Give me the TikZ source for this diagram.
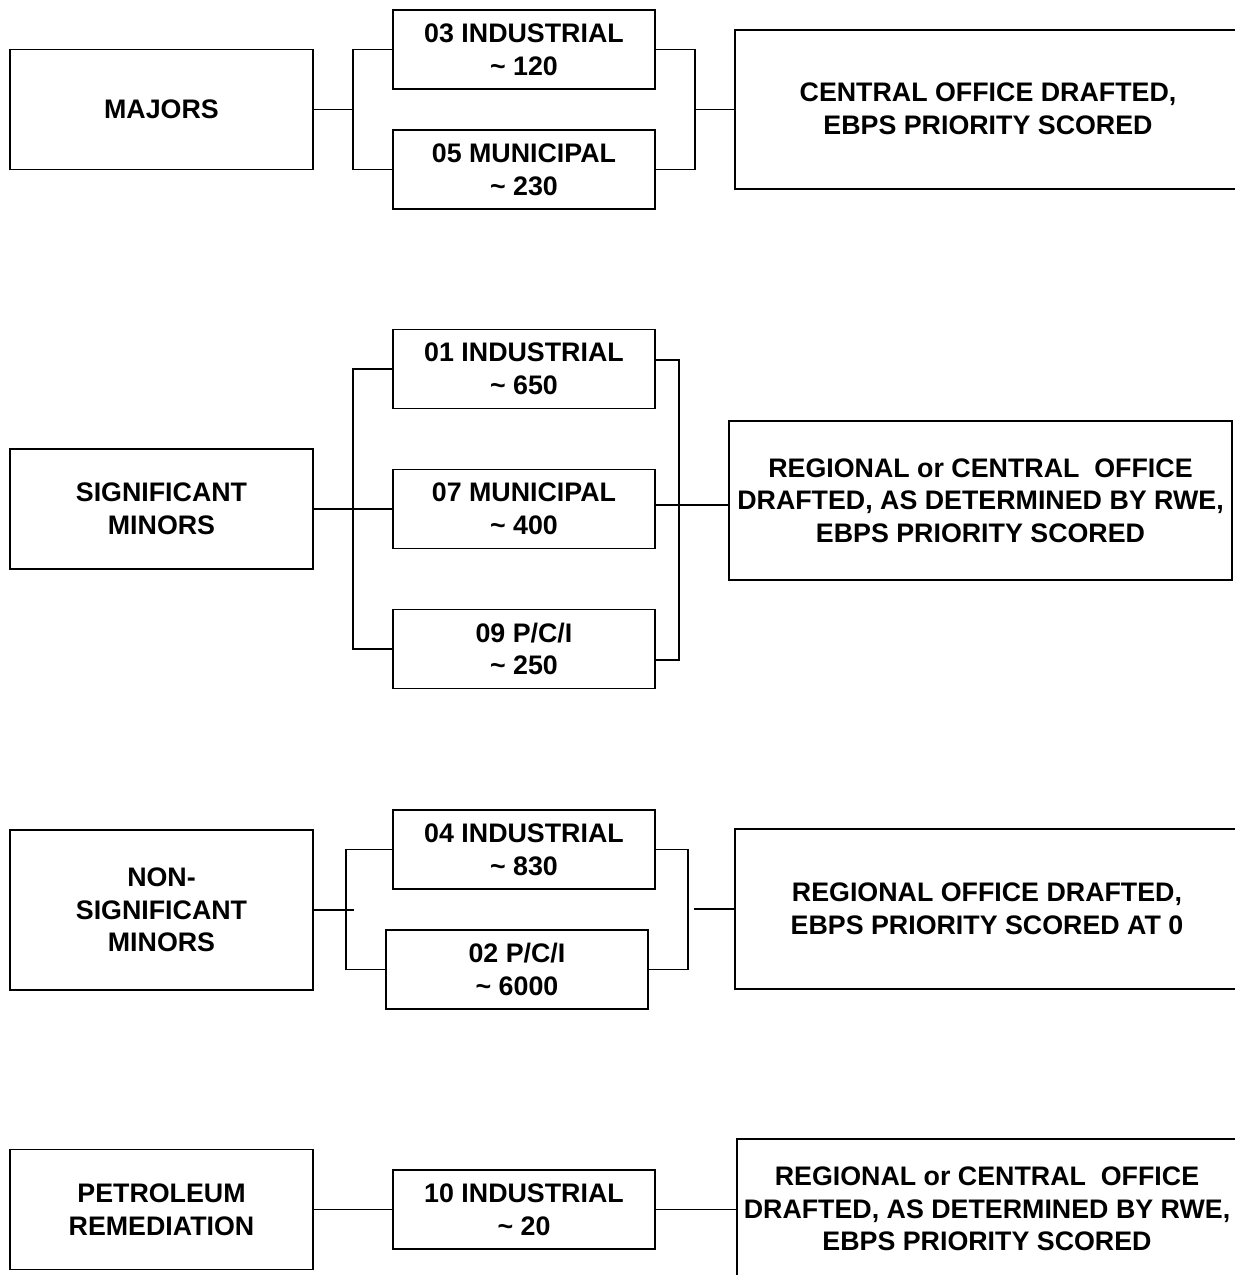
\documentclass[tikz,border=0pt]{standalone}
\usepackage{fontspec}
\setmainfont{Liberation Sans}
\begin{document}
\begin{tikzpicture}[x=0.5pt,y=-0.5pt,
  every node/.style={font=\fontsize{13.4}{16.3}\selectfont\bfseries, align=center, inner sep=0pt},
  line/.style={line width=0.7pt, line cap=rect},
  leftbox/.style={draw, line width=0.7pt, minimum width=151.5pt, minimum height=60pt},
  tallleft/.style={leftbox, minimum height=80pt},
  midbox/.style={draw, line width=0.7pt, minimum width=131pt, minimum height=39.5pt},
  bigbox/.style={draw, line width=0.7pt, minimum width=251.5pt, minimum height=79.5pt},
  txt/.style={draw=none}]
\useasboundingbox (0,0) rectangle (1235,1275);

% ---------- Row 1 ----------
\node[leftbox] (L1) at (161.5,109.5) {MAJORS};
\node[midbox] (A1) at (524,49.5) {03 INDUSTRIAL\\\char`\~\ 120};
\node[midbox] (B1) at (524,169.5) {05 MUNICIPAL\\\char`\~\ 230};
\node[txt] (R1) at (988,109) {CENTRAL OFFICE DRAFTED,\\EBPS PRIORITY SCORED};
\draw[line] (1245,30) -- (735,30) -- (735,189) -- (1245,189);
\coordinate (j1) at (353,109.5);
\coordinate (k1) at (695,109.5);
\coordinate (r1w) at (735,109.5);
\draw[line] (L1.east) -- (j1);
\draw[line] (A1.west) -| (j1) |- (B1.west);
\draw[line] (A1.east) -| (k1) |- (B1.east);
\draw[line] (k1) -- (r1w);

% ---------- Row 2 ----------
\node[leftbox] (L2) at (161.5,509) {SIGNIFICANT\\MINORS};
\node[midbox] (A2) at (524,369) {01 INDUSTRIAL\\\char`\~\ 650};
\node[midbox] (B2) at (524,509) {07 MUNICIPAL\\\char`\~\ 400};
\node[midbox] (C2) at (524,649) {09 P/C/I\\\char`\~\ 250};
\node[bigbox] (R2) at (980.5,500.5) {REGIONAL or CENTRAL\ \ OFFICE\\DRAFTED, AS DETERMINED BY RWE,\\EBPS PRIORITY SCORED};
\coordinate (j2) at (353,509);
\coordinate (k2) at (679,505);
\draw[line] (L2.east) -- (B2.west);
\draw[line] (A2.west) -| (j2) |- (C2.west);
\draw[line] ([yshift=4.5pt]A2.east) -| (k2) |- ([yshift=-5.5pt]C2.east);
\draw[line] ([yshift=2pt]B2.east) -- ([yshift=2pt]B2.east -| R2.west);

% ---------- Row 3 ----------
\node[tallleft] (L3) at (161.5,910) {NON-\\SIGNIFICANT\\MINORS};
\node[midbox] (A3) at (524,849.5) {04 INDUSTRIAL\\\char`\~\ 830};
\node[midbox] (B3) at (517,969.5) {02 P/C/I\\\char`\~\ 6000};
\node[txt] (R3) at (987,909) {REGIONAL OFFICE DRAFTED,\\EBPS PRIORITY SCORED AT 0};
\draw[line] (1245,829) -- (735,829) -- (735,989) -- (1245,989);
\coordinate (j3) at (353,910);
\coordinate (b3) at (346,910);
\coordinate (k3) at (688,909);
\coordinate (k3b) at (695,909);
\coordinate (r3w) at (735,909);
\draw[line] (L3.east) -- (j3);
\draw[line] (A3.west) -| (b3) |- (B3.west);
\draw[line] (A3.east) -| (k3) |- (B3.east);
\draw[line] (k3b) -- (r3w);

% ---------- Row 4 ----------
\node[leftbox] (L4) at (161.5,1209.5) {PETROLEUM\\REMEDIATION};
\node[midbox] (A4) at (524,1209.5) {10 INDUSTRIAL\\\char`\~\ 20};
\node[txt] (R4) at (987,1209) {REGIONAL or CENTRAL\ \ OFFICE\\DRAFTED, AS DETERMINED BY RWE,\\EBPS PRIORITY SCORED};
\draw[line] (1245,1139) -- (737,1139) -- (737,1285);
\coordinate (r4w) at (737,1209.5);
\draw[line] (L4.east) -- (A4.west);
\draw[line] (A4.east) -- (r4w);
\end{tikzpicture}
\end{document}
